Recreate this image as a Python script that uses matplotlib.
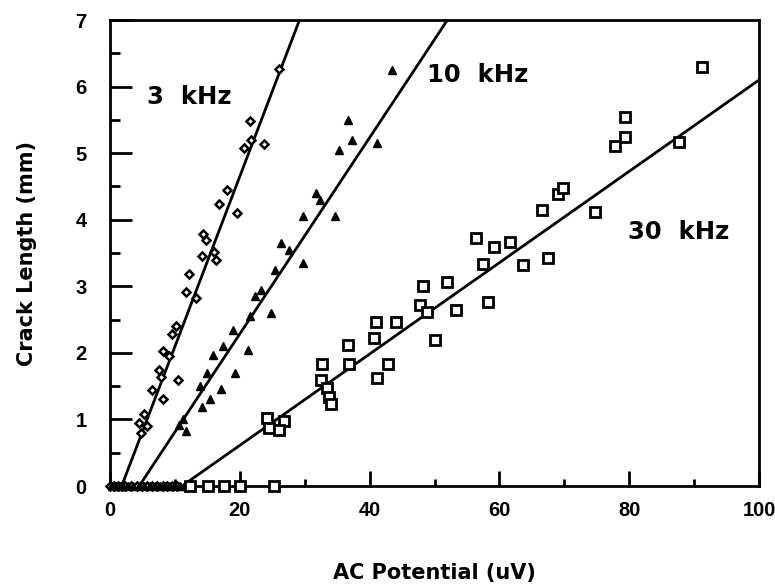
import matplotlib
matplotlib.use("Agg")
import matplotlib.pyplot as plt
import numpy as np
from matplotlib.ticker import MultipleLocator

plt.rcParams['font.family'] = ['DejaVu Sans']
plt.rcParams['font.weight'] = 'bold'

# ---- data ----
x_3k = [26.0, 21.5, 20.7, 21.7, 23.8, 18.0, 16.8, 19.6, 14.3, 14.8, 14.1, 16.1, 16.4,
        12.2, 11.7, 13.3, 10.2, 9.6, 8.1, 9.1, 10.5, 7.6, 7.8, 6.5, 8.1, 5.2, 4.4, 5.7, 4.7]
y_3k = [6.26, 5.49, 5.07, 5.19, 5.13, 4.44, 4.23, 4.10, 3.79, 3.69, 3.46, 3.51, 3.40,
        3.18, 2.92, 2.82, 2.41, 2.28, 2.03, 1.95, 1.59, 1.74, 1.64, 1.44, 1.31, 1.08, 0.95, 0.90, 0.80]
x_3k_zero = [0.0, 0.6, 1.2, 1.8, 2.3, 3.2, 4.2, 5.0, 5.7, 6.5, 7.3, 8.1, 8.8, 9.6, 10.4]

x_10k = [43.4, 36.6, 37.3, 35.3, 41.1, 31.8, 32.3, 29.7, 34.7, 26.3, 27.6, 25.5, 29.7,
         23.2, 22.4, 24.8, 21.6, 19.0, 21.3, 17.4, 15.8, 15.0, 19.2, 17.1, 13.8, 15.4,
         14.1, 10.7, 11.7, 11.2]
y_10k = [6.25, 5.50, 5.20, 5.05, 5.15, 4.40, 4.30, 4.05, 4.05, 3.65, 3.55, 3.25, 3.35,
         2.95, 2.85, 2.60, 2.55, 2.35, 2.05, 2.10, 1.97, 1.70, 1.70, 1.45, 1.50, 1.30,
         1.18, 0.92, 0.82, 1.00]
x_10k_zero = [0.3, 0.9, 1.5, 2.0, 2.7, 3.5, 4.4, 5.3, 6.1, 6.9, 7.7, 8.5, 9.2, 10.0, 10.8, 11.5]

x_30k = [24.2, 26.8, 24.5, 26.0, 32.7, 32.5, 33.5, 33.7, 34.0, 36.6, 36.8, 40.7, 41.0,
         41.2, 42.8, 44.0, 47.7, 48.2, 48.9, 50.0, 52.0, 53.3, 56.4, 57.4, 58.2, 59.2,
         61.6, 63.6, 67.5, 66.5, 69.0, 69.8, 74.7, 77.8, 79.3, 79.3, 87.6, 91.2]
y_30k = [1.02, 0.98, 0.87, 0.84, 1.84, 1.59, 1.47, 1.34, 1.23, 2.12, 1.83, 2.22, 2.47,
         1.62, 1.84, 2.47, 2.72, 3.00, 2.62, 2.19, 3.07, 2.64, 3.72, 3.34, 2.77, 3.59,
         3.67, 3.32, 3.42, 4.14, 4.39, 4.47, 4.12, 5.10, 5.24, 5.55, 5.17, 6.30]
x_30k_zero = [12.4, 15.1, 17.6, 20.0, 25.2]

# fitted lines: x-intercept (uV) and slope (mm/uV)
fit_x0 = [1.8, 4.5, 11.1]
fit_slope = [0.2555, 0.1474, 0.0686]

labels = ["3  kHz", "10  kHz", "30  kHz"]
label_x = [12.2, 56.6, 87.6]
label_y = [5.85, 6.17, 3.81]

x_ticks = [0, 20, 40, 60, 80, 100]
y_ticks = [0, 1, 2, 3, 4, 5, 6, 7]

# ---- figure ----
fig = plt.figure(figsize=(7.75, 5.84), dpi=100)
ax = fig.add_axes([110/775, 1-486/584, 649/775, 466/584])

for x0, m in zip(fit_x0, fit_slope):
    xs = np.array([x0, 100.0])
    ax.plot(xs, m * (xs - x0), color='black', lw=2.0, zorder=2, clip_on=True)

ax.plot(x_3k, y_3k, linestyle='none', marker='D', ms=4.3, mfc='white', mec='black',
        mew=1.8, zorder=3)
ax.plot(x_3k_zero, np.zeros(len(x_3k_zero)), linestyle='none', marker='D', ms=4.3,
        mfc='white', mec='black', mew=1.8, zorder=3, clip_on=False)
ax.plot(x_10k, y_10k, linestyle='none', marker='^', ms=6, color='black', zorder=3)
ax.plot(x_10k_zero, np.zeros(len(x_10k_zero)), linestyle='none', marker='^', ms=5.5,
        color='black', zorder=3, clip_on=False)
ax.plot(x_30k, y_30k, linestyle='none', marker='s', ms=7.5, mfc='white', mec='black',
        mew=2.0, zorder=3)
ax.plot(x_30k_zero, np.zeros(len(x_30k_zero)), linestyle='none', marker='s', ms=7.5,
        mfc='white', mec='black', mew=2.0, zorder=3, clip_on=False)

for t, lx, ly in zip(labels, label_x, label_y):
    ax.text(lx, ly, t, ha='center', va='center', fontsize=17.5, fontweight='bold')

ax.set_xlim(0, 100)
ax.set_ylim(0, 7)
ax.set_xticks(x_ticks)
ax.set_yticks(y_ticks)
tick_font = dict(family=['Liberation Sans', 'DejaVu Sans'], weight='bold', size=14.5)
ax.set_xticklabels([str(v) for v in x_ticks], fontdict=tick_font)
ax.set_yticklabels([str(v) for v in y_ticks], fontdict=tick_font)
ax.xaxis.set_minor_locator(MultipleLocator(10))
ax.yaxis.set_minor_locator(MultipleLocator(0.5))
ax.tick_params(axis='x', which='major', direction='in', length=11, width=2,
               pad=11, top=False)
ax.tick_params(axis='x', which='minor', direction='in', length=5, width=2, top=False)
ax.tick_params(axis='y', which='major', direction='in', length=16, width=2,
               pad=17, right=False)
ax.tick_params(axis='y', which='minor', direction='in', length=7, width=2, right=False)
for sp in ax.spines.values():
    sp.set_linewidth(2.0)

ax.set_xlabel("AC Potential (uV)", fontsize=15, fontweight='bold')
ax.set_ylabel("Crack Length (mm)", fontsize=15, fontweight='bold')
ax.xaxis.set_label_coords(0.5, -0.165)
ax.yaxis.set_label_coords(-0.112, 0.5)

fig.savefig("out.png", dpi=100)
